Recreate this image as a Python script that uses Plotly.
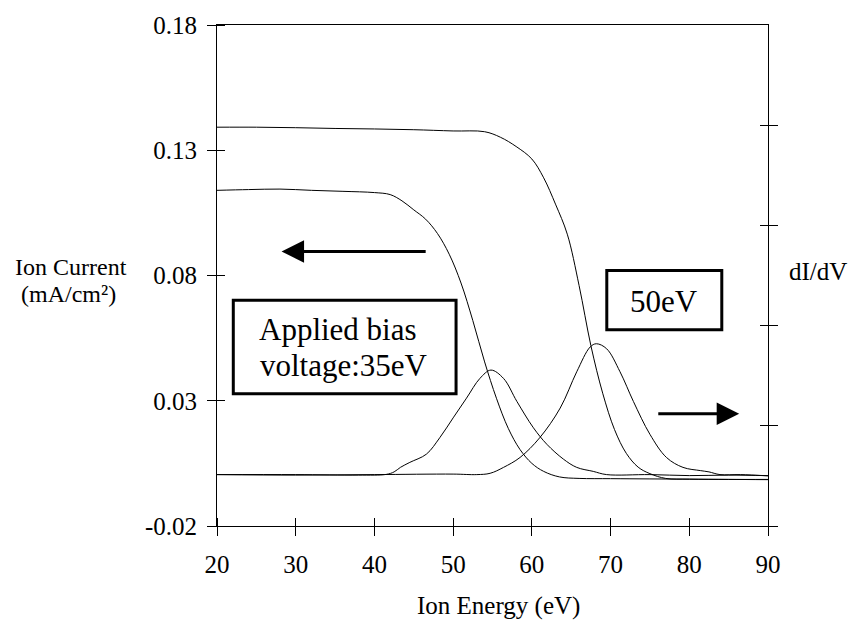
import plotly.graph_objects as go

# Ion energy axis (eV)
x_iv_35 = [20, 24, 28, 32, 36, 40, 42, 43.5, 45, 46.5, 48, 49.5, 51, 52.5, 54, 55.5,
           57, 58.5, 60, 61.5, 63.5, 66, 70, 75, 80, 85, 90]
# Ion current for the 35 eV bias (mA/cm2)
i_35 = [0.1140, 0.1143, 0.1145, 0.1140, 0.1136, 0.1131, 0.1123, 0.1098, 0.1062, 0.1025,
        0.0968, 0.0885, 0.0770, 0.0620, 0.0455, 0.0310, 0.0190, 0.0105, 0.0050, 0.0018,
        -0.0004, -0.0010, -0.0011, -0.0012, -0.0013, -0.0014, -0.0015]

x_iv_50 = [20, 25, 30, 35, 40, 45, 50, 54, 56, 58, 60, 61.5, 63, 64.5, 66, 67.5, 69,
           70.5, 72, 73.5, 75, 77, 80, 85, 90]
# Ion current for the 50 eV bias (mA/cm2)
i_50 = [0.1392, 0.1392, 0.1390, 0.1387, 0.1385, 0.1382, 0.1377, 0.1374, 0.1352, 0.1315,
        0.1265, 0.1190, 0.1085, 0.0965, 0.0760, 0.0520, 0.0330, 0.0185, 0.0090, 0.0035,
        0.0009, -0.0010, -0.0013, -0.0014, -0.0014]

x_d_35 = [20, 30, 38, 41.5, 42.5, 43.3, 44.5, 46.6, 48.3, 50, 51.7, 53.4, 54.8, 56.4,
          58.1, 60.2, 61.9, 64, 65.7, 67.8, 69.5, 75, 80, 85, 90]
# dI/dV for the 35 eV bias (arb. units)
d_35 = [0.513, 0.513, 0.508, 0.515, 0.540, 0.585, 0.635, 0.717, 0.881, 1.079, 1.276,
        1.473, 1.556, 1.473, 1.243, 0.980, 0.816, 0.668, 0.585, 0.545, 0.513, 0.513,
        0.503, 0.508, 0.503]

x_d_50 = [20, 30, 40, 50, 53, 54.7, 56.4, 58.5, 61.0, 63.6, 65.7, 67.4, 68.2, 69.5,
          71.2, 72.9, 75.0, 77.1, 79.2, 81.4, 82.5, 83.9, 86.5, 90]
# dI/dV for the 50 eV bias (arb. units)
d_50 = [0.513, 0.508, 0.513, 0.518, 0.513, 0.526, 0.585, 0.684, 0.881, 1.177, 1.539,
        1.786, 1.819, 1.769, 1.539, 1.243, 0.915, 0.684, 0.585, 0.553, 0.540, 0.513,
        0.513, 0.500]

x_ticks = [20, 30, 40, 50, 60, 70, 80, 90]
y_ticks = [-0.02, 0.03, 0.08, 0.13, 0.18]
y_tick_text = ["-0.02", "0.03", "0.08", "0.13", "0.18"]
y2_ticks = [0, 1, 2, 3, 4]

FONT = "Liberation Serif"
line = dict(color="black", width=1)

fig = go.Figure()
fig.add_trace(go.Scatter(x=x_iv_35, y=i_35, mode="lines", line=line, line_shape="spline"))
fig.add_trace(go.Scatter(x=x_iv_50, y=i_50, mode="lines", line=line, line_shape="spline"))
fig.add_trace(go.Scatter(x=x_d_35, y=d_35, mode="lines", line=line, line_shape="spline", yaxis="y2"))
fig.add_trace(go.Scatter(x=x_d_50, y=d_50, mode="lines", line=line, line_shape="spline", yaxis="y2"))

tickfont = dict(family=FONT, size=25, color="black")
common = dict(showgrid=False, zeroline=False, linecolor="black", linewidth=1,
              tickcolor="black", tickwidth=1, tickfont=tickfont)
# inward halves of the crossing tick marks
inner = dict(ticks="inside", ticklen=8, tickcolor="black", tickwidth=1, showgrid=False)

fig.update_layout(
    width=852, height=623,
    margin=dict(l=217, r=84, t=19, b=97),
    paper_bgcolor="white", plot_bgcolor="white",
    showlegend=False,
    font=dict(family=FONT, color="black"),
    xaxis=dict(range=[20, 90], tickvals=x_ticks, ticks="outside", ticklen=9,
               showline=True, mirror=True, ticklabelstandoff=7,
               minor=dict(tickmode="array", tickvals=x_ticks, **inner), **common),
    yaxis=dict(range=[-0.02, 0.18], tickvals=y_ticks, ticktext=y_tick_text,
               ticks="outside", ticklen=9, showline=True, ticklabelstandoff=5,
               minor=dict(tickmode="array", tickvals=y_ticks, **inner), **common),
    yaxis2=dict(range=[0, 5], tickvals=y2_ticks, ticks="outside", ticklen=9,
                overlaying="y", anchor="x", side="right", showline=True,
                showticklabels=False,
                minor=dict(tickmode="array", tickvals=y2_ticks, **inner), **common),
)

# boxed labels
box = dict(type="rect", xref="x", yref="y", line=dict(color="black", width=3),
           fillcolor="rgba(0,0,0,0)")
fig.add_shape(x0=22.07, x1=50.37, y0=0.0328, y1=0.0701, **box)
fig.add_shape(x0=69.52, x1=84.13, y0=0.0583, y1=0.0820, **box)

big = dict(family=FONT, size=31, color="black")
fig.add_annotation(x=25.08, y=0.0584, xref="x", yref="y", text="Applied bias",
                   showarrow=False, xanchor="left", yanchor="middle", font=big)
fig.add_annotation(x=25.25, y=0.0442, xref="x", yref="y", text="voltage:35eV",
                   showarrow=False, xanchor="left", yanchor="middle", font=big)
fig.add_annotation(x=76.77, y=0.0697, xref="x", yref="y", text="50eV",
                   showarrow=False, xanchor="center", yanchor="middle", font=big)

# arrows pointing to the relevant axis
arrow = dict(xref="x", yref="y", axref="x", ayref="y", text="", showarrow=True,
             arrowhead=2, arrowsize=1.5, arrowwidth=3, arrowcolor="black", standoff=0)
fig.add_annotation(x=28.2, y=0.0896, ax=46.7, ay=0.0896, **arrow)
fig.add_annotation(x=86.34, y=0.0248, ax=75.87, ay=0.0248, **arrow)

# axis titles
tfont = dict(family=FONT, size=24, color="black")
fig.add_annotation(x=-0.2657, y=0.517, xref="paper", yref="paper", text="Ion Current",
                   showarrow=False, xanchor="center", yanchor="middle", font=tfont)
fig.add_annotation(x=-0.2690, y=0.464, xref="paper", yref="paper",
                   text="(mA/cm²)", showarrow=False, xanchor="center",
                   yanchor="middle", font=tfont)
fig.add_annotation(x=1.0907, y=0.5078, xref="paper", yref="paper", text="dI/dV",
                   showarrow=False, xanchor="center", yanchor="middle",
                   font=dict(family=FONT, size=25, color="black"))
fig.add_annotation(x=0.51, y=-0.160, xref="paper", yref="paper", text="Ion Energy (eV)",
                   showarrow=False, xanchor="center", yanchor="middle",
                   font=dict(family=FONT, size=25, color="black"))

fig.write_html("out.html")
